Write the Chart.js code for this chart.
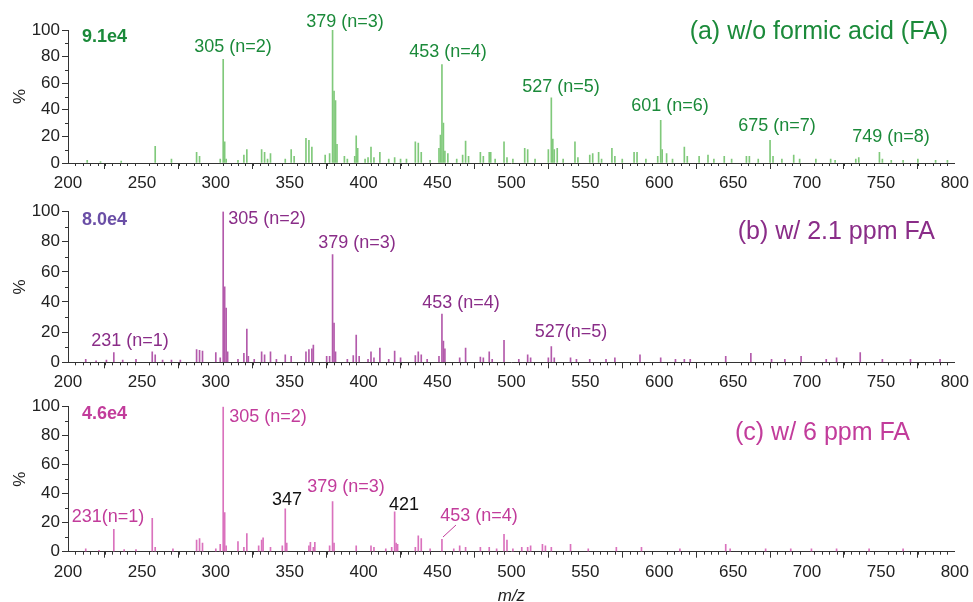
<!DOCTYPE html>
<html>
<head>
<meta charset="utf-8">
<script src="https://cdn.jsdelivr.net/npm/chart.js@4"></script>
<style>
  body { margin: 0; background: #fff; }
  .panel { position: absolute; left: 0; }
</style>
</head>
<body>
<canvas id="panelA" class="panel" width="973" height="195" style="top:0px"></canvas>
<canvas id="panelB" class="panel" width="973" height="195" style="top:195px"></canvas>
<canvas id="panelC" class="panel" width="973" height="212" style="top:390px"></canvas>
<script>
// m/z axis ticks
const xTicks = [200, 250, 300, 350, 400, 450, 500, 550, 600, 650, 700, 750, 800]
const yTicks = [0, 20, 40, 60, 80, 100]

// (a) w/o formic acid
const mzA = [213, 222, 236, 259, 270, 287, 289, 303, 305, 306, 307, 315, 319, 321, 331, 333, 335, 337, 347, 351, 353, 361, 363, 365, 374, 377, 379, 380, 381, 382, 387, 389, 394, 395, 396, 401, 403, 405, 407, 411, 417, 421, 425, 429, 435, 437, 439, 445, 451, 452, 453, 454, 455, 457, 463, 467, 469, 471, 479, 481, 485, 486, 489, 495, 497, 501, 509, 511, 516, 525, 527, 528, 529, 531, 535, 543, 545, 553, 555, 559, 561, 568, 570, 575, 583, 585, 591, 599, 601, 602, 605, 609, 617, 619, 627, 633, 637, 644, 649, 659, 661, 667, 675, 677, 683, 691, 695, 706, 716, 719, 733, 735, 749, 751, 757, 765, 775, 787, 795]
const intA = [2, 1, 1.5, 12.5, 3, 8, 5, 3, 78, 16, 3, 2, 6, 10, 10, 8, 3, 7, 3, 10, 5, 18.5, 17, 12, 6, 7, 100, 54, 47, 14, 5, 3, 5, 20.5, 11, 3, 4, 12, 4, 8, 3, 4, 3, 3, 16, 15, 8, 2, 11, 21, 74, 30, 9, 7, 3, 6, 16.5, 5, 8, 5, 8, 8, 3, 16, 4, 3, 11, 10, 3, 10, 49, 18, 10, 11, 3, 16, 4, 6, 7, 8, 3, 11, 5, 3, 8, 8, 3, 5, 32, 10, 7, 3, 12, 5, 5, 6, 3, 5, 3, 5, 5, 3, 17, 5, 3, 6, 3, 3, 3, 2, 3, 4, 8, 3, 2, 2, 3, 2, 2]

// (b) w/ 2.1 ppm FA
const mzB = [212, 219, 226, 231, 237, 246, 257, 259, 264, 270, 276, 287, 289, 291, 300, 303, 305, 306, 307, 308, 315, 319, 321, 322, 326, 331, 333, 337, 341, 347, 351, 361, 363, 365, 366, 375, 377, 379, 380, 381, 389, 393, 395, 397, 403, 405, 407, 411, 417, 421, 425, 435, 437, 439, 443, 451, 453, 454, 455, 465, 469, 479, 481, 485, 487, 495, 505, 511, 513, 525, 527, 529, 540, 544, 553, 564, 570, 587, 601, 611, 617, 621, 645, 662, 676, 685, 696, 713, 720, 736, 751, 770, 790]
const intB = [2, 1, 1.5, 6.5, 1.5, 2, 7, 5, 1.5, 1.5, 1.5, 8.5, 8, 7.5, 6.5, 3, 100, 50, 36, 7, 2, 6, 22, 4, 2, 7, 5, 7, 2, 5, 4, 7, 8.5, 9, 11.5, 4, 4, 71.5, 26, 7, 2, 4.5, 18, 4, 2, 7, 3, 9.5, 2, 7.5, 3, 4.5, 7, 5, 2, 4, 32, 14, 9, 3, 9.5, 3.5, 3, 7, 2, 14.5, 2, 5, 3, 3, 10.5, 3, 3, 2, 2, 2, 3, 5, 3, 2, 2, 2, 4, 6, 2, 2, 4, 2, 3, 6.5, 2, 2, 2]

// (c) w/ 6 ppm FA
const mzC = [212, 221, 231, 238, 246, 257, 259, 271, 287, 289, 291, 300, 303, 305, 306, 307, 315, 319, 321, 329, 331, 332, 337, 345, 347, 348, 363, 364, 366, 367, 377, 379, 380, 395, 405, 407, 415, 419, 421, 422, 423, 435, 437, 439, 445, 453, 461, 465, 469, 479, 485, 490, 495, 497, 501, 507, 511, 513, 521, 523, 527, 540, 552, 571, 588, 614, 645, 648, 672, 689, 703, 720, 742, 765]
const intC = [2, 1, 15.5, 1.5, 1.5, 23, 3, 2, 8, 9, 6, 2, 5, 100, 27, 4, 7, 3, 12.5, 4, 8, 9.5, 3, 4, 29.5, 6, 4, 6.5, 3, 6.5, 4, 34.5, 6, 4, 4, 3, 2, 3, 27.5, 6, 5, 3, 11, 9, 2, 8.5, 2, 4, 3, 3, 3, 2, 12, 8, 2, 3, 3, 4, 5, 4, 3, 5, 2, 3, 3, 2, 5, 2, 2, 2, 2, 2, 2, 2]

// peak annotations, anchored in data coordinates
const notesA = [
  { text: '9.1e4', x: 209.5, y: 94.7, color: '#1b8a3a', align: 'left', bold: true },
  { text: '305 (n=2)', x: 311.6, y: 87, color: '#1b8a3a' },
  { text: '379 (n=3)', x: 387.4, y: 106, color: '#1b8a3a' },
  { text: '453 (n=4)', x: 457.1, y: 83.5, color: '#1b8a3a' },
  { text: '527 (n=5)', x: 533.6, y: 57.2, color: '#1b8a3a' },
  { text: '601 (n=6)', x: 607.3, y: 43, color: '#1b8a3a' },
  { text: '675 (n=7)', x: 679.7, y: 28, color: '#1b8a3a' },
  { text: '749 (n=8)', x: 756.8, y: 19.7, color: '#1b8a3a' },
  { text: '(a) w/o formic acid (FA)', x: 795.4, y: 98.5, color: '#1b8a3a', align: 'right', size: 25 }
]
const notesB = [
  { text: '8.0e4', x: 209.5, y: 94.4, color: '#6a4ea6', align: 'left', bold: true },
  { text: '305 (n=2)', x: 334.6, y: 95, color: '#8a2d88' },
  { text: '379 (n=3)', x: 395.5, y: 79, color: '#8a2d88' },
  { text: '453 (n=4)', x: 465.9, y: 39.3, color: '#8a2d88' },
  { text: '231 (n=1)', x: 241.9, y: 14.1, color: '#8a2d88' },
  { text: '527(n=5)', x: 540.3, y: 20.1, color: '#8a2d88' },
  { text: '(b) w/ 2.1 ppm FA', x: 786.6, y: 86.4, color: '#8a2d88', align: 'right', size: 25 }
]
const notesC = [
  { text: '4.6e4', x: 209.5, y: 95, color: '#c23c9b', align: 'left', bold: true },
  { text: '305 (n=2)', x: 335.3, y: 92.9, color: '#c23c9b' },
  { text: '347', x: 348.2, y: 35.7, color: '#111' },
  { text: '379 (n=3)', x: 388.1, y: 44.6, color: '#c23c9b' },
  { text: '421', x: 427.3, y: 32.2, color: '#111' },
  { text: '231(n=1)', x: 227.1, y: 23.9, color: '#c23c9b' },
  { text: '453 (n=4)', x: 478.1, y: 24.6, color: '#c23c9b' },
  { text: '(c) w/ 6 ppm FA', x: 769.7, y: 81.9, color: '#c23c9b', align: 'right', size: 25 }
]
const leaderC = [[462.5, 18.4], [453.7, 10.1]]

const FONT = 'Arial, "Liberation Sans", sans-serif'
const AXIS = '#333'

const spectrumPlugin = {
  id: 'spectrum',
  afterDraw(chart, args, opts) {
    const ctx = chart.ctx
    const xs = chart.scales.x, ys = chart.scales.y
    const area = chart.chartArea
    ctx.save()
    // minor ticks
    ctx.strokeStyle = AXIS
    ctx.lineWidth = 1
    ctx.beginPath()
    for (let v = 205; v < 800; v += 5) {
      if (v % 50 === 0) continue
      const px = Math.round(xs.getPixelForValue(v)) + 0.5
      ctx.moveTo(px, area.bottom)
      ctx.lineTo(px, area.bottom + 3)
    }
    for (let v = 10; v < 100; v += 20) {
      const py = Math.round(ys.getPixelForValue(v)) + 0.5
      ctx.moveTo(area.left - 3, py)
      ctx.lineTo(area.left, py)
    }
    ctx.stroke()
    // leader line
    if (opts.leader) {
      ctx.strokeStyle = opts.leaderColor
      ctx.beginPath()
      ctx.moveTo(xs.getPixelForValue(opts.leader[0][0]), ys.getPixelForValue(opts.leader[0][1]))
      ctx.lineTo(xs.getPixelForValue(opts.leader[1][0]), ys.getPixelForValue(opts.leader[1][1]))
      ctx.stroke()
    }
    // annotations
    ctx.textBaseline = 'middle'
    for (const n of opts.notes || []) {
      ctx.font = (n.bold ? 'bold ' : '') + (n.size || 18) + 'px ' + FONT
      ctx.fillStyle = n.color
      ctx.textAlign = n.align || 'center'
      ctx.fillText(n.text, xs.getPixelForValue(n.x), ys.getPixelForValue(n.y))
    }
    ctx.restore()
  }
}

function makePanel(id, mz, inten, barColor, notes, top, bottom, withTitle, leader, leaderColor) {
  const canvas = document.getElementById(id)
  const h = canvas.height
  return new Chart(canvas, {
    type: 'bar',
    data: {
      datasets: [{
        data: mz.map((m, i) => ({ x: m, y: inten[i] })),
        backgroundColor: barColor,
        borderWidth: 0,
        barThickness: 1,
        grouped: false
      }]
    },
    options: {
      responsive: false,
      animation: false,
      layout: { padding: { top: top, right: 18, left: 0, bottom: 0 } },
      plugins: {
        legend: { display: false },
        tooltip: { enabled: false },
        spectrum: { notes: notes, leader: leader, leaderColor: leaderColor }
      },
      scales: {
        x: {
          type: 'linear', min: 200, max: 800, offset: false,
          grid: { drawOnChartArea: false, tickLength: 6, color: AXIS },
          border: { display: true, color: AXIS },
          ticks: {
            stepSize: 50, autoSkip: false, maxRotation: 0, padding: 4,
            color: '#222', font: { family: FONT, size: 17 },
            callback: v => xTicks.includes(v) ? String(v) : ''
          },
          title: {
            display: withTitle, text: 'm/z', color: '#222', padding: { top: 4, bottom: -4 },
            font: { family: FONT, size: 17, style: 'italic' }
          },
          afterFit(s) { s.height = h - bottom }
        },
        y: {
          min: 0, max: 100,
          grid: { drawOnChartArea: false, tickLength: 6, color: AXIS },
          border: { display: true, color: AXIS },
          ticks: {
            stepSize: 20, padding: 2, color: '#222', font: { family: FONT, size: 17 },
            callback: v => yTicks.includes(v) ? String(v) : ''
          },
          title: {
            display: true, text: '%', color: '#222', padding: { bottom: 0, top: 10 },
            font: { family: FONT, size: 17 }
          },
          afterFit(s) { s.width = 68 }
        }
      }
    },
    plugins: [spectrumPlugin]
  })
}

makePanel('panelA', mzA, intA, '#80c97b', notesA, 30, 163, false)
makePanel('panelB', mzB, intB, '#b35aab', notesB, 16.5, 167.3, false)
makePanel('panelC', mzC, intC, '#da72bd', notesC, 16.7, 161.7, true, leaderC, '#c23c9b')
</script>
</body>
</html>
